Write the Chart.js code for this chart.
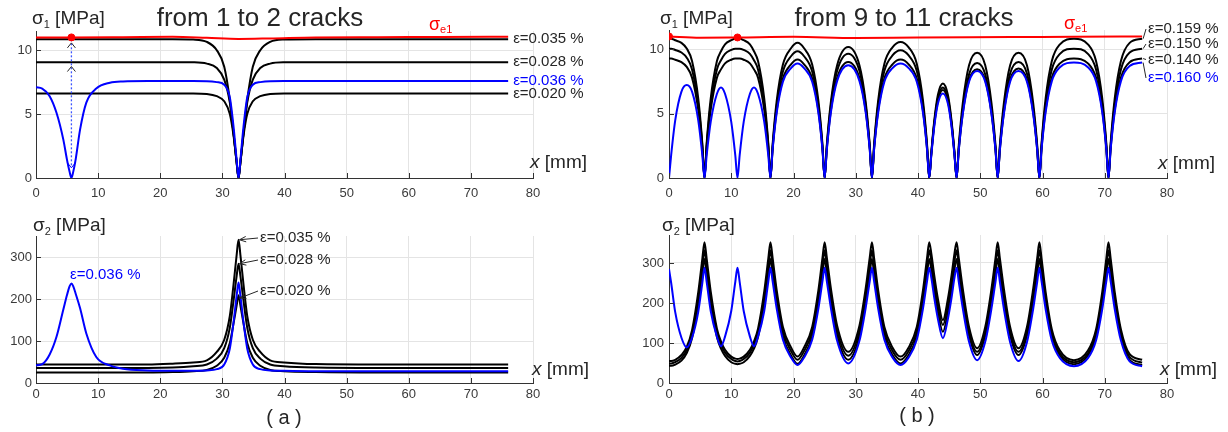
<!DOCTYPE html>
<html>
<head>
<meta charset="utf-8">
<script src="https://cdn.jsdelivr.net/npm/chart.js@4.4.0/dist/chart.umd.min.js"></script>
<style>
  body { margin: 0; background: #fff; width: 1228px; height: 432px; position: relative; overflow: hidden; }
  canvas { position: absolute; }
</style>
</head>
<body>
<canvas id="a1" width="614" height="205" style="left:0;top:0"></canvas>
<canvas id="a2" width="614" height="227" style="left:0;top:205px"></canvas>
<canvas id="b1" width="614" height="205" style="left:614px;top:0"></canvas>
<canvas id="b2" width="614" height="227" style="left:614px;top:205px"></canvas>
<script>
// ---------- datos ----------
const xTicks = [0, 10, 20, 30, 40, 50, 60, 70, 80];
const yTicksS1 = [0, 5, 10];
const yTicksS2 = [0, 100, 200, 300];

// (a) de 1 a 2 fisuras
const xA = [0, 1.0, 2.2, 3.3, 4.4, 5.0, 5.4, 5.7, 6.0, 6.4, 7.1, 8.1, 9.7, 11.9, 14, 18, 22,
  25.3, 27.5, 29.1, 30.3, 31.2, 31.8, 32.3, 32.6, 32.9, 33.4, 34.0, 34.9, 36.1, 37.7, 39.9, 45, 55, 65, 76];

const a1_035 = [10.86, 10.86, 10.86, 10.86, 10.86, 10.86, 10.86, 10.86, 10.86, 10.86, 10.86, 10.86, 10.86, 10.86, 10.86, 10.86, 10.86,
  10.83, 10.65, 10.0, 8.7, 6.1, 3.5, 1.2, 0, 1.2, 3.5, 6.1, 8.7, 10.0, 10.65, 10.83, 10.86, 10.86, 10.86, 10.86];
const a1_028 = [9.06, 9.06, 9.06, 9.06, 9.06, 9.06, 9.06, 9.06, 9.06, 9.06, 9.06, 9.06, 9.06, 9.06, 9.06, 9.06, 9.06,
  9.05, 8.95, 8.6, 7.7, 5.9, 3.5, 1.2, 0, 1.2, 3.5, 5.9, 7.7, 8.6, 8.95, 9.05, 9.06, 9.06, 9.06, 9.06];
const a1_020 = [6.62, 6.62, 6.62, 6.62, 6.62, 6.62, 6.62, 6.62, 6.62, 6.62, 6.62, 6.62, 6.62, 6.62, 6.62, 6.62, 6.62,
  6.62, 6.58, 6.4, 6.0, 5.0, 3.3, 1.2, 0, 1.2, 3.3, 5.0, 6.0, 6.4, 6.58, 6.62, 6.62, 6.62, 6.62, 6.62];
const a1_036 = [7.1, 7.0, 6.4, 5.1, 3.0, 1.4, 0.5, 0, 0.5, 1.5, 3.8, 5.9, 7.0, 7.45, 7.55, 7.58, 7.58,
  7.58, 7.57, 7.5, 7.3, 6.3, 4.0, 1.4, 0, 1.4, 4.0, 6.3, 7.3, 7.5, 7.57, 7.58, 7.58, 7.58, 7.58, 7.58];

const a2_035 = [44, 44, 44, 44, 44, 44, 44, 44, 44, 44, 44, 44, 44, 44, 44, 44, 46,
  49, 54, 74, 103, 160, 235, 305, 341, 305, 235, 160, 103, 74, 54, 49, 45, 44, 44, 44];
const a2_028 = [36, 36, 36, 36, 36, 36, 36, 36, 36, 36, 36, 36, 36, 36, 36, 36, 37,
  40, 44, 58, 83, 132, 196, 255, 284, 255, 196, 132, 83, 58, 44, 40, 37, 36, 36, 36];
const a2_020 = [25, 25, 25, 25, 25, 25, 25, 25, 25, 25, 25, 25, 25, 25, 25, 25, 26,
  28, 31, 41, 60, 95, 142, 185, 209, 185, 142, 95, 60, 41, 31, 28, 26, 25, 25, 25];
const a2_036 = [42, 45, 68, 110, 175, 210, 230, 237, 230, 212, 178, 118, 62, 42, 34, 30, 29,
  29, 30, 33, 44, 82, 145, 208, 239, 208, 145, 82, 44, 33, 30, 29, 28, 28, 28, 28];

const redAx = [0, 5.7, 14, 22, 27.5, 32.6, 37.7, 45, 55, 65, 76];
const redAy = [11.0, 11.0, 11.02, 11.05, 10.97, 10.88, 10.92, 11.0, 11.02, 11.03, 11.05];
const dotAx = [5.7];
const dotAy = [11.0];

// (b) de 9 a 11 fisuras
const xB = [0, 0.35, 1.0, 2.0, 2.85, 3.7, 4.7, 5.35, 5.7,
  6.05, 6.7, 7.7, 8.35, 9.0, 10.0, 10.65, 11, 11.35, 12.0, 13.0, 13.65, 14.3, 15.3, 15.95, 16.3,
  16.65, 17.3, 18.3, 19.6, 20.65, 21.7, 23.0, 24.0, 24.65, 25,
  25.35, 26.0, 27.0, 28.8, 30.6, 31.6, 32.25, 32.6,
  32.95, 33.6, 34.6, 35.9, 37.2, 38.5, 39.8, 40.8, 41.45, 41.8,
  42.15, 42.6, 43.2, 44.0, 44.8, 45.4, 45.85, 46.2,
  46.55, 47.2, 48.2, 49.5, 50.8, 51.8, 52.45, 52.8,
  53.15, 53.8, 54.8, 56.15, 57.5, 58.5, 59.15, 59.5,
  59.85, 60.5, 61.5, 62.8, 65.05, 67.3, 68.6, 69.6, 70.25, 70.6,
  70.95, 71.6, 72.6, 74.0, 76];

const b1_159 = [10.82, 10.82, 10.7, 10.5, 10.06, 9.09, 6.17, 2.7, 0,
  2.7, 6.17, 9.09, 9.85, 10.39, 10.71, 10.82, 10.82, 10.82, 10.71, 10.39, 9.85, 9.09, 6.17, 2.7, 0,
  2.63, 5.99, 8.82, 10.08, 10.5, 10.08, 8.82, 5.99, 2.63, 0,
  2.55, 5.9, 8.75, 10.18, 8.75, 5.9, 2.55, 0,
  2.64, 6.02, 8.88, 10.15, 10.57, 10.15, 8.88, 6.02, 2.64, 0,
  2.06, 4.41, 6.47, 7.35, 6.47, 4.41, 2.06, 0,
  2.53, 5.84, 8.77, 9.74, 8.77, 5.84, 2.53, 0,
  2.53, 5.84, 8.77, 9.74, 8.77, 5.84, 2.53, 0,
  2.7, 6.17, 9.09, 10.39, 10.82, 10.39, 9.09, 6.17, 2.7, 0,
  2.7, 6.17, 9.09, 10.5, 10.82];
const b1_150 = [10.05, 10.05, 9.95, 9.75, 9.35, 8.44, 5.73, 2.51, 0,
  2.51, 5.73, 8.44, 9.15, 9.65, 9.95, 10.05, 10.05, 10.05, 9.95, 9.65, 9.15, 8.44, 5.73, 2.51, 0,
  2.46, 5.61, 8.27, 9.46, 9.85, 9.46, 8.27, 5.61, 2.46, 0,
  2.42, 5.6, 8.31, 9.66, 8.31, 5.6, 2.42, 0,
  2.48, 5.65, 8.33, 9.52, 9.92, 9.52, 8.33, 5.65, 2.48, 0,
  1.97, 4.22, 6.2, 7.04, 6.2, 4.22, 1.97, 0,
  2.32, 5.36, 8.05, 8.94, 8.05, 5.36, 2.32, 0,
  2.35, 5.41, 8.12, 9.02, 8.12, 5.41, 2.35, 0,
  2.51, 5.73, 8.44, 9.65, 10.05, 9.65, 8.44, 5.73, 2.51, 0,
  2.51, 5.73, 8.44, 9.75, 10.05];
const b1_140 = [9.28, 9.28, 9.19, 9.0, 8.63, 7.8, 5.29, 2.32, 0,
  2.32, 5.29, 7.8, 8.44, 8.91, 9.19, 9.28, 9.28, 9.28, 9.19, 8.91, 8.44, 7.8, 5.29, 2.32, 0,
  2.3, 5.24, 7.73, 8.83, 9.2, 8.83, 7.73, 5.24, 2.3, 0,
  2.26, 5.23, 7.76, 9.02, 7.76, 5.23, 2.26, 0,
  2.3, 5.24, 7.73, 8.83, 9.2, 8.83, 7.73, 5.24, 2.3, 0,
  1.91, 4.1, 6.01, 6.83, 6.01, 4.1, 1.91, 0,
  2.2, 5.07, 7.61, 8.45, 7.61, 5.07, 2.2, 0,
  2.21, 5.1, 7.65, 8.5, 7.65, 5.1, 2.21, 0,
  2.32, 5.29, 7.8, 8.91, 9.28, 8.91, 7.8, 5.29, 2.32, 0,
  2.32, 5.29, 7.8, 9.0, 9.28];
const b1_160 = [0, 1.8, 4.48, 6.71, 7.22, 6.71, 4.48, 1.8, 0,
  1.76, 4.36, 6.55, 7.04, 6.55, 4.36, 1.76, 0, 1.76, 4.36, 6.55, 7.04, 6.55, 4.36, 1.76, 0,
  2.23, 5.07, 7.48, 8.54, 8.9, 8.54, 7.48, 5.07, 2.23, 0,
  2.19, 5.08, 7.53, 8.76, 7.53, 5.08, 2.19, 0,
  2.23, 5.07, 7.48, 8.54, 8.9, 8.54, 7.48, 5.07, 2.23, 0,
  1.84, 3.94, 5.78, 6.57, 5.78, 3.94, 1.84, 0,
  2.16, 4.99, 7.49, 8.32, 7.49, 4.99, 2.16, 0,
  2.16, 4.99, 7.49, 8.32, 7.49, 4.99, 2.16, 0,
  2.24, 5.11, 7.53, 8.61, 8.97, 8.61, 7.53, 5.11, 2.24, 0,
  2.24, 5.11, 7.53, 8.7, 8.97];

const b2_159 = [55, 55, 58, 70, 90, 132, 227, 310, 352,
  311, 229, 136, 104, 83, 66, 61, 60, 61, 66, 83, 104, 136, 229, 311, 352,
  312, 232, 140, 89, 66, 89, 140, 232, 312, 352,
  314, 237, 144, 78, 144, 237, 314, 352,
  312, 232, 140, 89, 66, 89, 140, 232, 312, 352,
  323, 270, 210, 157, 210, 270, 323, 352,
  312, 235, 140, 87, 140, 235, 312, 352,
  312, 235, 140, 87, 140, 235, 312, 352,
  311, 228, 134, 81, 57, 81, 134, 228, 311, 352,
  311, 228, 134, 72, 58];
const b2_150 = [49, 49, 52, 63, 83, 123, 213, 292, 332,
  293, 215, 126, 96, 76, 60, 55, 54, 55, 60, 76, 96, 126, 215, 293, 332,
  294, 217, 129, 80, 58, 80, 129, 217, 294, 332,
  295, 221, 131, 68, 131, 221, 295, 332,
  294, 217, 129, 80, 58, 80, 129, 217, 294, 332,
  304, 253, 195, 145, 195, 253, 304, 332,
  294, 220, 129, 78, 129, 220, 294, 332,
  294, 220, 129, 78, 129, 220, 294, 332,
  293, 214, 125, 74, 52, 74, 125, 214, 293, 332,
  293, 214, 125, 65, 51];
const b2_140 = [43, 43, 46, 56, 75, 112, 198, 273, 310,
  273, 200, 115, 86, 68, 52, 48, 47, 48, 52, 68, 86, 115, 200, 273, 310,
  273, 200, 116, 69, 48, 69, 116, 200, 273, 310,
  275, 204, 118, 58, 118, 204, 275, 310,
  273, 200, 117, 70, 49, 70, 117, 200, 273, 310,
  283, 234, 177, 128, 177, 234, 283, 310,
  274, 204, 118, 70, 118, 204, 274, 310,
  274, 204, 118, 70, 118, 204, 274, 310,
  273, 200, 115, 68, 47, 68, 115, 200, 273, 310,
  273, 200, 115, 58, 45];
const b2_160 = [285, 250, 177, 113, 89, 113, 178, 250, 288,
  253, 180, 116, 92, 116, 180, 253, 288, 253, 180, 116, 92, 116, 180, 253, 288,
  254, 186, 108, 64, 45, 64, 108, 186, 254, 288,
  255, 188, 106, 49, 106, 188, 255, 288,
  254, 186, 108, 64, 45, 64, 108, 186, 254, 288,
  262, 214, 160, 112, 160, 214, 262, 288,
  253, 186, 103, 57, 103, 186, 253, 288,
  253, 185, 102, 55, 102, 185, 253, 288,
  254, 185, 106, 62, 42, 62, 106, 185, 254, 288,
  254, 185, 106, 54, 42];

const redBx = [0, 5, 11, 20, 30, 40, 55, 65, 76];
const redBy = [11.0, 10.9, 10.92, 10.97, 10.88, 10.92, 10.95, 10.98, 11.0];
const dotBx = [0, 11];
const dotBy = [11.0, 10.92];

// ---------- estilo ----------
const FONT = "'Liberation Sans', Arial, Helvetica, sans-serif";
const INK = '#262626';
const GRID = '#e4e4e4';
const NEGRO = '#000000';
const AZUL = '#0000ff';
const ROJO = '#ff0000';

function pts(xs, ys) {
  if (xs.length !== ys.length) throw new Error('largo distinto: ' + xs.length + ' vs ' + ys.length);
  return xs.map((x, i) => ({ x: x, y: ys[i] }));
}

function curva(xs, ys, color) {
  return { data: pts(xs, ys), borderColor: color, borderWidth: 2, pointRadius: 0, fill: false, cubicInterpolationMode: 'monotone' };
}

function puntos(xs, ys) {
  return { data: pts(xs, ys), showLine: false, pointRadius: 3.5, pointBackgroundColor: ROJO, pointBorderColor: ROJO, borderColor: ROJO };
}

function texto(ctx, s, x, y, size, color, align, italic) {
  ctx.font = (italic ? 'italic ' : '') + size + 'px ' + FONT;
  ctx.fillStyle = color;
  ctx.textAlign = align || 'left';
  ctx.textBaseline = 'middle';
  ctx.fillText(s, x, y);
  return ctx.measureText(s).width;
}

function sigma(ctx, x, y, sub, resto, size, subSize, color) {
  const w = texto(ctx, 'σ', x, y, size, color);
  const w2 = texto(ctx, sub, x + w, y + size * 0.3, subSize, color);
  if (resto) texto(ctx, resto, x + w + w2, y, size, color);
}

function etiquetaX(ctx, x, y) {
  const w = texto(ctx, 'x', x, y, 19, INK, 'left', true);
  texto(ctx, ' [mm]', x + w, y, 19, INK);
}

function linea(ctx, x0, y0, x1, y1, color) {
  ctx.save();
  ctx.strokeStyle = color; ctx.lineWidth = 1;
  ctx.beginPath(); ctx.moveTo(x0, y0); ctx.lineTo(x1, y1); ctx.stroke();
  ctx.restore();
}

function flecha(ctx, x0, y0, x1, y1) {
  linea(ctx, x0, y0, x1, y1, INK);
  const ang = Math.atan2(y1 - y0, x1 - x0);
  const L = 7;
  ctx.save();
  ctx.strokeStyle = INK; ctx.lineWidth = 1;
  ctx.beginPath();
  ctx.moveTo(x1 - L * Math.cos(ang - 0.4), y1 - L * Math.sin(ang - 0.4));
  ctx.lineTo(x1, y1);
  ctx.lineTo(x1 - L * Math.cos(ang + 0.4), y1 - L * Math.sin(ang + 0.4));
  ctx.stroke();
  ctx.restore();
}

function chevron(ctx, px, py, arriba, color) {
  const d = arriba ? 5 : -5;
  ctx.save();
  ctx.strokeStyle = color; ctx.lineWidth = 1;
  ctx.beginPath();
  ctx.moveTo(px - 4, py + d); ctx.lineTo(px, py); ctx.lineTo(px + 4, py + d);
  ctx.stroke();
  ctx.restore();
}

// ticks hacia adentro, como en matlab
const ticksDentro = {
  id: 'ticksDentro',
  afterDatasetsDraw(chart) {
    const { ctx, chartArea: a, scales: { x, y } } = chart;
    ctx.save();
    ctx.strokeStyle = '#333'; ctx.lineWidth = 1;
    ctx.beginPath();
    x.ticks.forEach(t => {
      const p = Math.round(x.getPixelForValue(t.value)) + 0.5;
      ctx.moveTo(p, a.bottom); ctx.lineTo(p, a.bottom - 5);
    });
    y.ticks.forEach(t => {
      const p = Math.round(y.getPixelForValue(t.value)) + 0.5;
      ctx.moveTo(a.left, p); ctx.lineTo(a.left + 5, p);
    });
    ctx.stroke();
    ctx.restore();
  }
};

function opciones(g) {
  return {
    responsive: false,
    animation: false,
    devicePixelRatio: 1,
    layout: { padding: { left: 0, top: g.top, right: g.right, bottom: 0 } },
    plugins: { legend: { display: false }, tooltip: { enabled: false } },
    scales: {
      x: {
        type: 'linear', min: 0, max: 80,
        afterBuildTicks: s => { s.ticks = xTicks.map(v => ({ value: v })); },
        afterFit: s => { s.height = g.xh; },
        grid: { color: GRID, drawTicks: false },
        border: { color: '#333', width: 1 },
        ticks: { padding: g.xpad, color: '#3a3a3a', maxRotation: 0, autoSkip: false, font: { family: FONT, size: 13 } }
      },
      y: {
        type: 'linear', min: 0, max: g.ymax,
        afterBuildTicks: s => { s.ticks = g.yTicks.map(v => ({ value: v })); },
        afterFit: s => { s.width = g.yw; },
        grid: { color: GRID, drawTicks: false },
        border: { color: '#333', width: 1 },
        ticks: { padding: g.ypad, color: '#3a3a3a', font: { family: FONT, size: 13 } }
      }
    }
  };
}

function ultimo(arr) { return arr[arr.length - 1]; }

// ---------- (a) arriba ----------
new Chart(document.getElementById('a1'), {
  type: 'line',
  data: {
    datasets: [
      puntos(dotAx, dotAy),
      curva(redAx, redAy, ROJO),
      { data: pts([5.7, 5.7], [10.85, 0.9]), borderColor: '#3d55ff', borderWidth: 1.3, borderDash: [2, 2], pointRadius: 0 },
      curva(xA, a1_036, AZUL),
      curva(xA, a1_035, NEGRO),
      curva(xA, a1_028, NEGRO),
      curva(xA, a1_020, NEGRO)
    ]
  },
  options: opciones({ top: 31, right: 81, xh: 27, yw: 36, ymax: 11.5, yTicks: yTicksS1, xpad: 8, ypad: 4 }),
  plugins: [ticksDentro, {
    id: 'textosA1',
    afterDraw(chart) {
      const ctx = chart.ctx, sx = chart.scales.x, sy = chart.scales.y;
      sigma(ctx, 32, 19, '1', ' [MPa]', 19, 11, INK);
      texto(ctx, 'from 1 to 2 cracks', 260, 19, 26, INK, 'center');
      sigma(ctx, 429, 25, 'e1', '', 18, 11, ROJO);
      const xe = sx.getPixelForValue(76) + 5;
      texto(ctx, 'ε=0.035 %', xe, sy.getPixelForValue(ultimo(a1_035)), 15, INK);
      texto(ctx, 'ε=0.028 %', xe, sy.getPixelForValue(ultimo(a1_028)), 15, INK);
      texto(ctx, 'ε=0.036 %', xe, sy.getPixelForValue(ultimo(a1_036)), 15, AZUL);
      texto(ctx, 'ε=0.020 %', xe, sy.getPixelForValue(ultimo(a1_020)), 15, INK);
      const px = sx.getPixelForValue(5.7);
      chevron(ctx, px, sy.getPixelForValue(10.57), true, INK);
      chevron(ctx, px, sy.getPixelForValue(8.72), true, INK);
      chevron(ctx, px, sy.getPixelForValue(0.8), false, AZUL);
      etiquetaX(ctx, 530, 163);
    }
  }]
});

// ---------- (a) abajo ----------
new Chart(document.getElementById('a2'), {
  type: 'line',
  data: {
    datasets: [
      curva(xA, a2_036, AZUL),
      curva(xA, a2_035, NEGRO),
      curva(xA, a2_028, NEGRO),
      curva(xA, a2_020, NEGRO)
    ]
  },
  options: opciones({ top: 31, right: 81, xh: 49, yw: 36, ymax: 350, yTicks: yTicksS2, xpad: 4, ypad: 4 }),
  plugins: [ticksDentro, {
    id: 'textosA2',
    afterDraw(chart) {
      const ctx = chart.ctx, sx = chart.scales.x, sy = chart.scales.y;
      sigma(ctx, 33, 21, '2', ' [MPa]', 19, 11, INK);
      const pk = sx.getPixelForValue(32.6) + 1;
      texto(ctx, 'ε=0.035 %', 260, 33, 15, INK);
      flecha(ctx, 258, 33, pk, sy.getPixelForValue(341));
      texto(ctx, 'ε=0.028 %', 260, 55, 15, INK);
      flecha(ctx, 258, 55, pk, sy.getPixelForValue(284));
      texto(ctx, 'ε=0.020 %', 260, 86, 15, INK);
      flecha(ctx, 258, 86, pk, sy.getPixelForValue(202));
      texto(ctx, 'ε=0.036 %', 70, 70, 15, AZUL);
      etiquetaX(ctx, 532, 165);
      texto(ctx, '( a )', 284, 213, 20, INK, 'center');
    }
  }]
});

// ---------- (b) arriba ----------
new Chart(document.getElementById('b1'), {
  type: 'line',
  data: {
    datasets: [
      puntos(dotBx, dotBy),
      curva(redBx, redBy, ROJO),
      curva(xB, b1_160, AZUL),
      curva(xB, b1_159, NEGRO),
      curva(xB, b1_150, NEGRO),
      curva(xB, b1_140, NEGRO)
    ]
  },
  options: opciones({ top: 30, right: 61, xh: 27, yw: 55, ymax: 11.5, yTicks: yTicksS1, xpad: 8, ypad: 5 }),
  plugins: [ticksDentro, {
    id: 'textosB1',
    afterDraw(chart) {
      const ctx = chart.ctx, sx = chart.scales.x, sy = chart.scales.y;
      sigma(ctx, 46, 19, '1', ' [MPa]', 19, 11, INK);
      texto(ctx, 'from 9 to 11 cracks', 290, 19, 26, INK, 'center');
      sigma(ctx, 450, 24, 'e1', '', 18, 11, ROJO);
      const xe = sx.getPixelForValue(76) + 1;
      const xl = 534;
      const filas = [
        ['ε=0.159 %', ultimo(b1_159), 29, INK],
        ['ε=0.150 %', ultimo(b1_150), 44, INK],
        ['ε=0.140 %', ultimo(b1_140), 59.5, INK],
        ['ε=0.160 %', ultimo(b1_160), 78, AZUL]
      ];
      filas.forEach(f => {
        linea(ctx, xe, sy.getPixelForValue(f[1]), xl - 2, f[2], INK);
        texto(ctx, f[0], xl, f[2], 15, f[3]);
      });
      etiquetaX(ctx, 544, 164);
    }
  }]
});

// ---------- (b) abajo ----------
new Chart(document.getElementById('b2'), {
  type: 'line',
  data: {
    datasets: [
      curva(xB, b2_160, AZUL),
      curva(xB, b2_159, NEGRO),
      curva(xB, b2_150, NEGRO),
      curva(xB, b2_140, NEGRO)
    ]
  },
  options: opciones({ top: 30, right: 61, xh: 49, yw: 55, ymax: 370, yTicks: yTicksS2, xpad: 4, ypad: 5 }),
  plugins: [ticksDentro, {
    id: 'textosB2',
    afterDraw(chart) {
      const ctx = chart.ctx;
      sigma(ctx, 48, 21, '2', ' [MPa]', 19, 11, INK);
      etiquetaX(ctx, 546, 165);
      texto(ctx, '( b )', 303, 211, 20, INK, 'center');
    }
  }]
});
</script>
</body>
</html>
